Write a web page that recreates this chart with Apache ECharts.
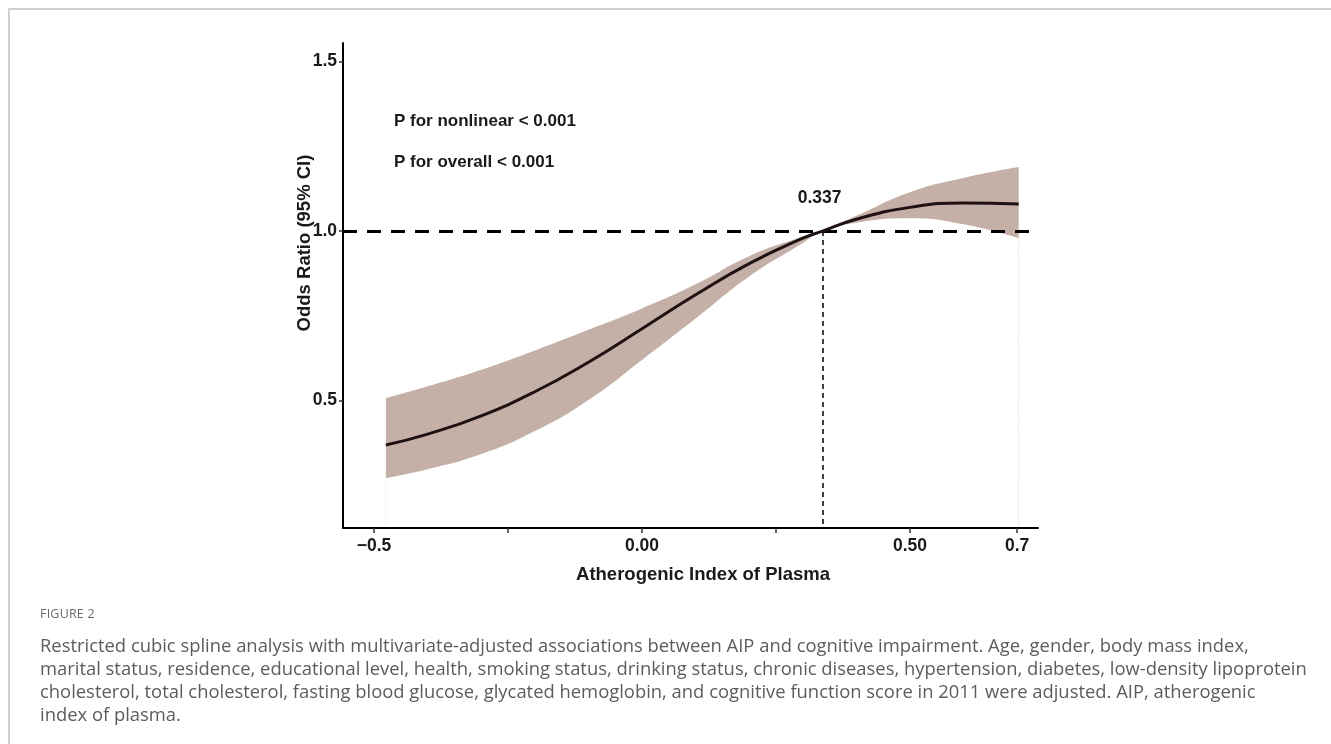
<!DOCTYPE html>
<html>
<head>
<meta charset="utf-8">
<script src="https://cdn.jsdelivr.net/npm/echarts@6/dist/echarts.min.js"></script>
<style>
  html, body { margin: 0; padding: 0; background: #fff; }
  #wrap { position: relative; width: 1331px; height: 744px; overflow: hidden; }
  #frame { position: absolute; left: 8px; top: 8px; right: -10px; bottom: -10px;
           border-top: 2px solid #d0d0d0; border-left: 2px solid #d0d0d0; }
  #chart { position: absolute; left: 0; top: 0; width: 1331px; height: 744px; }
  #figlabel { position: absolute; left: 40px; top: 605px; font-family: "Open Sans", sans-serif;
              font-size: 12.5px; color: #6a6a6a; letter-spacing: 0.2px; }
  #caption { position: absolute; left: 40px; top: 633px; font-family: "Open Sans", sans-serif;
             font-size: 18.4px; line-height: 23px; color: #5c5c5c; white-space: nowrap; }
</style>
</head>
<body>
<div id="wrap">
  <div id="frame"></div>
  <div id="chart"></div>
  <div id="figlabel">FIGURE 2</div>
  <div id="caption">Restricted cubic spline analysis with multivariate-adjusted associations between AIP and cognitive impairment. Age, gender, body mass index,<br>marital status, residence, educational level, health, smoking status, drinking status, chronic diseases, hypertension, diabetes, low-density lipoprotein<br>cholesterol, total cholesterol, fasting blood glucose, glycated hemoglobin, and cognitive function score in 2011 were adjusted. AIP, atherogenic<br>index of plasma.</div>
</div>
<script>
// ---- data ----
const aipValues   = [-0.478, -0.4, -0.3, -0.2, -0.1, 0.0, 0.1, 0.2, 0.3, 0.337, 0.4, 0.5, 0.6, 0.703];
const oddsRatio   = [0.369, 0.401, 0.455, 0.526, 0.613, 0.712, 0.812, 0.904, 0.979, 1.000, 1.035, 1.070, 1.083, 1.080];
const ciLower     = [0.271, 0.297, 0.342, 0.410, 0.502, 0.620, 0.742, 0.866, 0.965, 1.000, 1.025, 1.038, 1.020, 0.979];
const ciUpper     = [0.507, 0.542, 0.591, 0.648, 0.709, 0.772, 0.843, 0.926, 0.983, 1.000, 1.045, 1.115, 1.157, 1.189];
const xTickValues  = [-0.5, -0.25, 0, 0.25, 0.5, 0.7];
const xLabelValues = [-0.5, 0, 0.5, 0.7];
const xLabelText   = {"-0.5": "\u22120.5", "0": "0.00", "0.5": "0.50", "0.7": "0.7"};
const yTickValues  = [0.5, 1.0, 1.5];
const yLabelText   = {"0.5": "0.5", "1": "1.0", "1.5": "1.5"};
const refOR = 1.0;
const inflection = 0.337;
const pTexts = ["P for nonlinear < 0.001", "P for overall < 0.001"];

const font = "Liberation Sans, Arial, sans-serif";
const X_MIN = -0.558, X_MAX = 0.739, Y_MIN = 0.124, Y_MAX = 1.555;
const lineData  = aipValues.map((x, i) => [x, oddsRatio[i]]);
const upperData = aipValues.map((x, i) => [x, ciUpper[i]]);
const lowerData = aipValues.map((x, i) => [x, ciLower[i]]);
const SMOOTH = 0.5;

const chart = echarts.init(document.getElementById('chart'), null, {renderer: 'canvas'});
chart.setOption({
  animation: false,
  backgroundColor: 'transparent',
  grid: { left: 343, right: 293, top: 43, bottom: 216, containLabel: false },
  xAxis: {
    type: 'value', min: X_MIN, max: X_MAX, z: 10,
    splitLine: { show: false },
    axisLine: { show: true, onZero: false, lineStyle: { color: '#000', width: 2 } },
    axisTick: { show: true, length: 5, lineStyle: { color: '#333', width: 1.5 }, customValues: xTickValues },
    axisLabel: { customValues: xLabelValues, margin: 9, color: '#1a1a1a',
      fontFamily: font, fontWeight: 'bold', fontSize: 17.5,
      formatter: v => xLabelText[String(v)] || '' },
    name: 'Atherogenic Index of Plasma', nameLocation: 'middle', nameGap: 37, nameMoveOverlap: false,
    nameTextStyle: { fontFamily: font, fontWeight: 'bold', fontSize: 18.5, color: '#1a1a1a', padding: [0, 0, 0, 25] }
  },
  yAxis: {
    type: 'value', min: Y_MIN, max: Y_MAX, z: 10,
    splitLine: { show: false },
    axisLine: { show: true, onZero: false, lineStyle: { color: '#000', width: 2 } },
    axisTick: { show: true, length: 4, lineStyle: { color: '#333', width: 1.5 }, customValues: yTickValues },
    axisLabel: { customValues: yTickValues, margin: 6, color: '#1a1a1a',
      fontFamily: font, fontWeight: 'bold', fontSize: 17.5,
      formatter: v => yLabelText[String(v)] || '' },
    name: 'Odds Ratio (95% CI)', nameLocation: 'middle', nameGap: 29, nameRotate: 90, nameMoveOverlap: false,
    nameTextStyle: { fontFamily: font, fontWeight: 'bold', fontSize: 18.5, color: '#1a1a1a', padding: [0, 0, 0, 85] }
  },
  series: [
    { name: 'upper', type: 'line', data: upperData, smooth: SMOOTH, symbol: 'none',
      lineStyle: { width: 0, opacity: 0 }, areaStyle: { color: '#c5b0a7', opacity: 1, origin: 'start' },
      silent: true, z: 2 },
    { name: 'lower', type: 'line', data: lowerData, smooth: SMOOTH, symbol: 'none',
      lineStyle: { width: 0, opacity: 0 }, areaStyle: { color: '#ffffff', opacity: 1, origin: 'start' },
      silent: true, z: 3 },
    { name: 'OR', type: 'line', data: lineData, smooth: SMOOTH, symbol: 'none', z: 5,
      lineStyle: { color: '#1f1212', width: 3 },
      markLine: {
        silent: true, symbol: 'none', animation: false, label: { show: false },
        data: [
          { yAxis: refOR, lineStyle: { color: '#000', width: 3, type: [14, 10] } },
          [ { coord: [inflection, refOR] }, { coord: [inflection, Y_MIN] } ]
        ],
        lineStyle: { color: '#000', width: 1.5, type: [5, 4] }
      },
      markPoint: {
        silent: true, symbol: 'circle', symbolSize: 0,
        data: [ { coord: [inflection, refOR], value: inflection } ],
        label: { show: true, formatter: String(inflection), offset: [-3, -33],
          fontFamily: font, fontWeight: 'bold', fontSize: 17.5, color: '#1a1a1a' }
      }
    }
  ],
  graphic: [
    { type: 'text', left: 394, top: 113, style: { text: pTexts[0], font: 'bold 17px ' + font, fill: '#1a1a1a' } },
    { type: 'text', left: 394, top: 154, style: { text: pTexts[1], font: 'bold 17px ' + font, fill: '#1a1a1a' } }
  ]
});
</script>
</body>
</html>
